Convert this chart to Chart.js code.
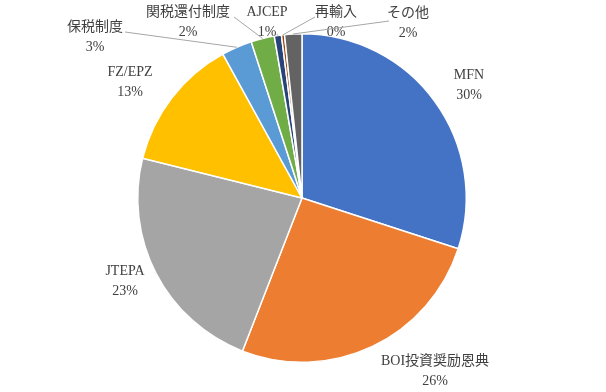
<!DOCTYPE html>
<html lang="ja">
<head>
    <meta charset="UTF-8">
    <title>制度別利用割合</title>
    <script src="https://cdn.jsdelivr.net/npm/chart.js"></script>
    <style>
        body { margin: 0; background: #fff; }
    </style>
</head>
<body>
    <canvas id="pieChart" width="606" height="392"></canvas>

    <script>
        // データ（%）
        const categories = ['MFN', 'BOI投資奨励恩典', 'JTEPA', 'FZ/EPZ', '保税制度', '関税還付制度', 'AJCEP', '再輸入', 'その他'];
        const shares = [30.0, 25.9, 23.0, 13.1, 3.0, 2.3, 0.7, 0.3, 1.7];
        const shareLabels = ['30%', '26%', '23%', '13%', '3%', '2%', '1%', '0%', '2%'];

        const sliceColors = ['#4472C4', '#ED7D31', '#A5A5A5', '#FFC000', '#5B9BD5', '#70AD47', '#264478', '#9E480E', '#636363'];

        // ラベル位置（円の中心からのずれ）と引き出し線の始点（ラベル中心から）
        const labelAt = [[167, -113], [133, 173], [-177, 83], [-172, -116], [-207, -161], [-114, -176], [-35, -176], [34, -176], [106, -175]];
        const leaderFrom = [null, null, null, null, [30, -5], [46, -5], [10, 12], [-21, -5], [-19, -2]];

        const labelPlugin = {
            id: 'pieLabels',
            afterDatasetsDraw(chart) {
                const ctx = chart.ctx;
                const meta = chart.getDatasetMeta(0);
                ctx.save();
                ctx.font = '14px "Liberation Serif", "Noto Sans CJK JP", serif';
                ctx.fillStyle = '#404040';
                ctx.textAlign = 'center';
                ctx.textBaseline = 'middle';
                meta.data.forEach((arc, i) => {
                    const p = arc.getProps(['x', 'y', 'startAngle', 'endAngle', 'outerRadius'], true);
                    const lx = p.x + labelAt[i][0];
                    const ly = p.y + labelAt[i][1];
                    if (leaderFrom[i]) {
                        const mid = (p.startAngle + p.endAngle) / 2;
                        const ex = p.x + Math.cos(mid) * p.outerRadius;
                        const ey = p.y + Math.sin(mid) * p.outerRadius;
                        ctx.strokeStyle = '#A6A6A6';
                        ctx.lineWidth = 1;
                        ctx.beginPath();
                        ctx.moveTo(lx + leaderFrom[i][0], ly + leaderFrom[i][1]);
                        ctx.lineTo(ex, ey);
                        ctx.stroke();
                    }
                    ctx.fillText(categories[i], lx, ly - 10);
                    ctx.fillText(shareLabels[i], lx, ly + 10);
                });
                ctx.restore();
            }
        };

        new Chart(document.getElementById('pieChart'), {
            type: 'pie',
            data: {
                labels: categories,
                datasets: [{
                    data: shares,
                    backgroundColor: sliceColors,
                    borderColor: '#ffffff',
                    borderWidth: 1.5
                }]
            },
            options: {
                responsive: false,
                animation: false,
                layout: { padding: { top: 33, bottom: 29, left: 0, right: 2 } },
                plugins: {
                    legend: { display: false },
                    tooltip: { enabled: false }
                }
            },
            plugins: [labelPlugin]
        });
    </script>
</body>
</html>
